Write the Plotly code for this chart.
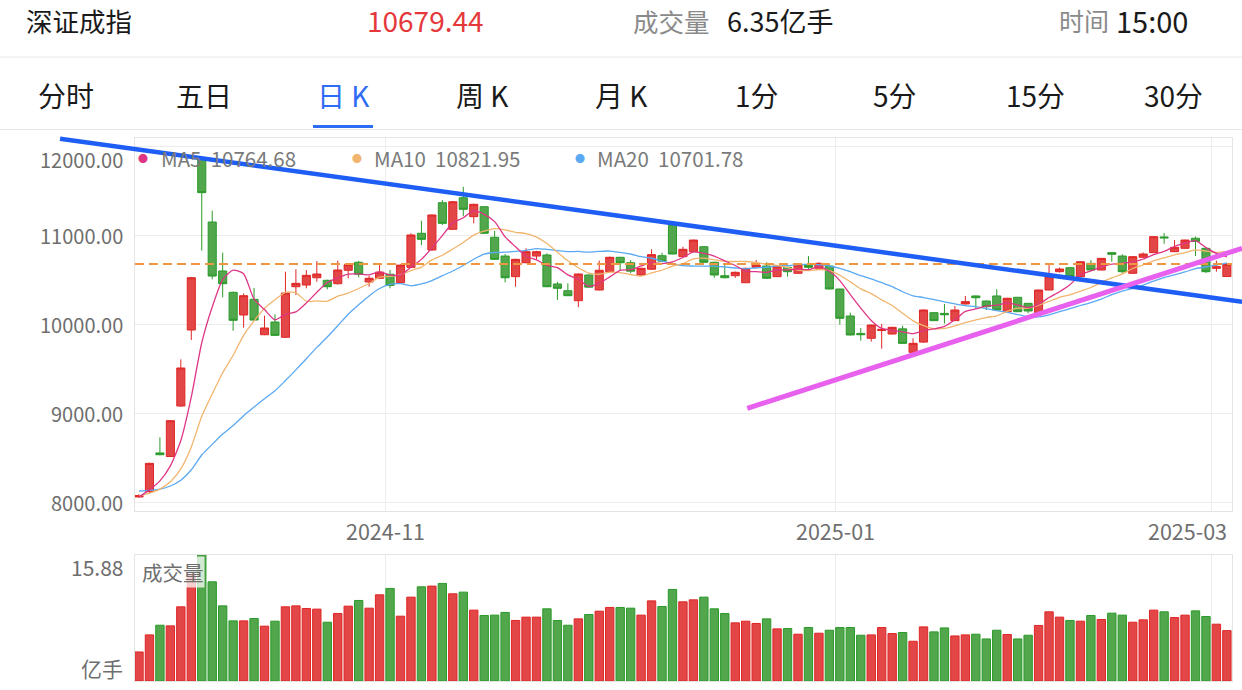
import plotly.graph_objects as go
import pandas as pd

# ---------------- data ----------------
open_ = [8060, 8119, 8555, 8515, 9083, 9938, 11860, 11153, 10602, 10362,
         10107, 10283, 9885, 10028, 9856, 10425, 10444, 10526, 10497, 10459,
         10610, 10700, 10478, 10520, 10565, 10470, 10643, 11026, 10838, 11370,
         11071, 11426, 11213, 11325, 10981, 10770, 10538, 10695, 10770, 10782,
         10456, 10380, 10268, 10557, 10388, 10594, 10756, 10695, 10557, 10622,
         10774, 11115, 10763, 10819, 10875, 10700, 10549, 10549, 10470, 10643,
         10658, 10538, 10643, 10576, 10669, 10632, 10658, 10399, 10096, 9900,
         9845, 9932, 9893, 9951, 9687, 9802, 10133, 10125, 10043, 10231,
         10321, 10264, 10321, 10144, 10306, 10238, 10133, 10388, 10594, 10639,
         10538, 10688, 10613, 10808, 10770, 10576, 10756, 10808, 10985, 10819,
         10857, 10970, 10857, 10632, 10540]
high = [8090, 8445, 8730, 8925, 9608, 10535, 11880, 11280, 10808, 10370,
        10350, 10411, 10099, 10115, 10594, 10621, 10613, 10714, 10505, 10718,
        10680, 10715, 10549, 10669, 10613, 10675, 11026, 11168, 11240, 11400,
        11390, 11550, 11360, 11330, 11055, 10793, 10740, 10857, 10830, 10801,
        10480, 10463, 10575, 10565, 10718, 10765, 10760, 10725, 10640, 10846,
        10808, 11125, 10875, 10955, 10880, 10705, 10669, 10595, 10640, 10725,
        10700, 10665, 10650, 10675, 10770, 10700, 10665, 10402, 10133, 9960,
        9998, 10008, 9975, 9986, 9845, 10170, 10140, 10231, 10208, 10321,
        10326, 10270, 10396, 10300, 10310, 10242, 10392, 10669, 10640, 10645,
        10710, 10725, 10748, 10812, 10790, 10766, 10810, 10992, 11030, 10950,
        10955, 10990, 10862, 10718, 10688]
low = [8050, 8100, 8528, 8510, 9075, 9826, 10830, 10508, 10306, 9930,
       9964, 10040, 9880, 9870, 9850, 10332, 10407, 10481, 10396, 10450,
       10520, 10530, 10425, 10515, 10407, 10465, 10640, 10894, 10830, 11119,
       11065, 11220, 11138, 11020, 10725, 10474, 10425, 10690, 10733, 10420,
       10276, 10320, 10195, 10415, 10385, 10590, 10613, 10576, 10550, 10613,
       10700, 10790, 10758, 10815, 10695, 10526, 10520, 10525, 10465, 10630,
       10515, 10535, 10538, 10570, 10621, 10628, 10396, 9998, 9878, 9818,
       9807, 9728, 9888, 9785, 9682, 9795, 10040, 10010, 10040, 10225,
       10182, 10163, 10160, 10140, 10140, 10126, 10130, 10385, 10585, 10535,
       10535, 10610, 10610, 10706, 10580, 10572, 10752, 10805, 10908, 10815,
       10853, 10770, 10580, 10594, 10535]
close = [8075, 8438, 8535, 8918, 9511, 10526, 11483, 10545, 10459, 10047,
         10324, 10050, 9961, 9878, 10354, 10463, 10553, 10568, 10425, 10613,
         10673, 10565, 10520, 10590, 10440, 10668, 11007, 10958, 11232, 11138,
         11381, 11296, 11352, 11026, 10733, 10526, 10733, 10819, 10819, 10425,
         10407, 10324, 10568, 10420, 10610, 10756, 10695, 10600, 10632, 10786,
         10712, 10793, 10846, 10950, 10700, 10557, 10526, 10587, 10632, 10669,
         10520, 10658, 10594, 10669, 10643, 10688, 10399, 10070, 9882, 9885,
         9994, 9946, 9968, 9788, 9788, 10163, 10043, 10110, 10163, 10257,
         10301, 10200, 10163, 10295, 10144, 10152, 10388, 10538, 10624, 10538,
         10706, 10613, 10744, 10790, 10594, 10763, 10793, 10988, 10975, 10868,
         10950, 10935, 10594, 10650, 10679.44]
volume = [3.66, 5.81, 7.03, 6.95, 9.35, 13.3, 15.88, 12.5, 9.47, 7.58,
          7.58, 7.88, 6.91, 7.54, 9.35, 9.47, 9.14, 9.06, 7.41, 8.51,
          9.43, 10.15, 9.18, 10.86, 11.67, 8.17, 10.57, 11.87, 11.96, 12.3,
          10.99, 11.2, 8.93, 8.26, 8.3, 8.64, 7.63, 8.05, 8.05, 9.1,
          7.63, 7.03, 7.83, 8.38, 8.8, 9.27, 9.27, 9.18, 8.3, 10.1,
          9.39, 11.54, 9.98, 10.23, 10.57, 9.1, 8.51, 7.33, 7.54, 7.25,
          7.83, 6.57, 6.61, 5.9, 6.74, 6.02, 6.4, 6.74, 6.74, 5.77,
          5.81, 6.74, 5.98, 6.11, 5.01, 6.82, 6.19, 6.69, 5.68, 5.81,
          5.9, 5.3, 6.4, 5.86, 5.3, 5.77, 7.0, 8.72, 8.05, 7.63,
          7.54, 8.26, 7.75, 8.55, 8.3, 7.41, 7.71, 8.93, 8.72, 8.0,
          8.3, 8.84, 8.13, 7.16, 6.35]
# closes of the 19 sessions before the first candle (only used for the moving averages)
prior_close = [8290, 8250, 8230, 8200, 8180, 8170, 8150, 8130, 8130, 8110,
               8100, 8090, 8080, 8070, 8060, 8040, 8030, 8070, 8085]

month_ticks = ["2024-11", "2025-01", "2025-03"]
y_ticks = [8000, 9000, 10000, 11000, 12000]
legend_text = ["MA5  10764.68", "MA10  10821.95", "MA20  10701.78"]
header_name = "深证成指"
header_price = "10679.44"
header_vol = "6.35亿手"
header_time = "15:00"
tabs = ["分时", "五日", "日 K", "周 K", "月 K", "1分", "5分", "15分", "30分"]

# trading calendar
holidays = pd.to_datetime(["2024-10-01", "2024-10-02", "2024-10-03", "2024-10-04", "2024-10-07",
                           "2025-01-01", "2025-01-28", "2025-01-29", "2025-01-30", "2025-01-31",
                           "2025-02-03", "2025-02-04"])
dates = [d for d in pd.bdate_range("2024-09-23", "2025-03-04") if d not in set(holidays)]
n = len(close)
idx = list(range(n))

allc = pd.Series(prior_close + close)
ma = {k: allc.rolling(k).mean().iloc[len(prior_close):].tolist() for k in (5, 10, 20)}

# ---------------- geometry ----------------
W, H = 1242, 690
L, R, T, B = 135, 1232, 138, 681
MAIN_BOT, VOL_TOP = 511, 555
XR = [-0.382, 104.49]
YR = [7902, 12098]
VR = [0, 15.88]


def pxx(p):
    return (p - L) / (R - L)


def pxy(p):
    return (B - p) / (B - T)


main_dom = [pxy(MAIN_BOT), 1.0]
vol_dom = [0.0, pxy(VOL_TOP)]


def dx(i):
    return (i - XR[0]) / (XR[1] - XR[0])


def dy(v):
    return main_dom[0] + (v - YR[0]) / (YR[1] - YR[0]) * (main_dom[1] - main_dom[0])


RED_F, RED_L = "#E24646", "#E02626"
GRN_F, GRN_L = "#52A64C", "#2A9A2A"
GRID = "#ECECEC"
TXT = "#6E6E6E"
FONT = "Noto Sans CJK SC, Liberation Sans, sans-serif"

fig = go.Figure()
fig.add_trace(go.Candlestick(
    x=idx, open=open_, high=high, low=low, close=close,
    increasing=dict(fillcolor=RED_F, line=dict(color=RED_L, width=1)),
    decreasing=dict(fillcolor=GRN_F, line=dict(color=GRN_L, width=1)),
    whiskerwidth=0, showlegend=False, hoverinfo="skip", xaxis="x", yaxis="y"))

for k, col in ((20, "#5AA9F2"), (10, "#F1B56E"), (5, "#DE3585")):
    fig.add_trace(go.Scatter(x=idx, y=ma[k], mode="lines", line=dict(color=col, width=1.3, shape="spline", smoothing=0.6),
                             showlegend=False, hoverinfo="skip", xaxis="x", yaxis="y"))

vcol = [RED_F if c > o else GRN_F for o, c in zip(open_, close)]
vline = [RED_L if c > o else GRN_L for o, c in zip(open_, close)]
fig.add_trace(go.Bar(x=idx, y=volume, marker=dict(color=vcol, line=dict(color=vline, width=1)),
                     showlegend=False, hoverinfo="skip", xaxis="x2", yaxis="y2"))

tick_pos = []
for lab in month_ticks:
    first = next(i for i, d in enumerate(dates) if d.strftime("%Y-%m") == lab)
    tick_pos.append(first - 0.43)

axis_common = dict(showline=True, mirror=True, linecolor="#E4E4E4", linewidth=1, zeroline=False,
                   fixedrange=True)
fig.update_layout(
    width=W, height=H, margin=dict(l=L, r=W - R, t=T, b=H - B),
    paper_bgcolor="white", plot_bgcolor="white",
    font=dict(family=FONT, color=TXT),
    boxgap=0.12, boxgroupgap=0.12, bargap=0.2,
    xaxis=dict(domain=[0, 1], range=XR, anchor="y", tickvals=tick_pos, showticklabels=False,
               showgrid=True, gridcolor=GRID, rangeslider=dict(visible=False), **axis_common),
    yaxis=dict(domain=main_dom, range=YR, anchor="x", tickvals=y_ticks, showticklabels=False,
               showgrid=True, gridcolor=GRID, **axis_common),
    xaxis2=dict(domain=[0, 1], range=XR, anchor="y2", tickvals=tick_pos, showticklabels=False,
                showgrid=True, gridcolor=GRID, **axis_common),
    yaxis2=dict(domain=vol_dom, range=VR, anchor="x2", showticklabels=False, showgrid=False,
                **axis_common),
)

shapes = []
# last close dashed line
shapes.append(dict(type="line", xref="paper", yref="y", x0=0, x1=1, y0=close[-1], y1=close[-1],
                   line=dict(color="#EE9640", width=2, dash="9px,5px"), layer="above"))
# trend lines (data coords -> paper)
blue_pts = [(-7.55, 12090), (105.45, 10255)]
pink_pts = [(58.15, 9057), (105.45, 10857)]
for pts, col, w in ((blue_pts, "#1F5EF5", 4.5), (pink_pts, "#E860EE", 5)):
    shapes.append(dict(type="line", xref="paper", yref="paper",
                       x0=dx(pts[0][0]), y0=dy(pts[0][1]), x1=dx(pts[1][0]), y1=dy(pts[1][1]),
                       line=dict(color=col, width=w), layer="above"))
# header separators and tab underline
shapes.append(dict(type="line", xref="paper", yref="paper", x0=pxx(0), x1=pxx(W), y0=pxy(57), y1=pxy(57),
                   line=dict(color="#E8E8E8", width=1)))
shapes.append(dict(type="line", xref="paper", yref="paper", x0=pxx(0), x1=pxx(W), y0=pxy(129.5), y1=pxy(129.5),
                   line=dict(color="#E8E8E8", width=1)))
shapes.append(dict(type="rect", xref="paper", yref="paper", x0=pxx(313), x1=pxx(373), y0=pxy(128), y1=pxy(125),
                   fillcolor="#2F6CF6", line=dict(width=0)))
fig.update_layout(shapes=shapes)

ann = []


def A(text, x, y, size, color, anchor="left", xref="paper", yref="paper", **kw):
    ann.append(dict(text=text, x=x, y=y, xref=xref, yref=yref, xanchor=anchor, yanchor="middle",
                    showarrow=False, font=dict(size=size, color=color, family=FONT), **kw))


# header
A(header_name, pxx(24), pxy(20), 26.5, "#1A1A1A")
A(header_price, pxx(425), pxy(20), 28, "#E5383B", anchor="center")
A("成交量", pxx(631), pxy(20), 25.5, "#8A8A8A")
A(header_vol, pxx(725), pxy(20), 27, "#1A1A1A")
A("时间", pxx(1057), pxy(20), 25, "#8A8A8A")
A(header_time, pxx(1114), pxy(20), 29, "#1A1A1A")
tab_x = [66, 204, 343, 482, 621, 757, 895, 1035, 1173]
for t, xc in zip(tabs, tab_x):
    A(t, pxx(xc), pxy(95), 28, "#2F6CF6" if t == "日 K" else "#1A1A1A", anchor="center")

# y labels
for v in y_ticks:
    A(f"{v:.2f}", pxx(125), v, 20, TXT, anchor="right", yref="y",
      yshift=-13 if v == max(y_ticks) else 0)
# x labels (last one kept inside the plot edge)
for k, (lab, p) in enumerate(zip(month_ticks, tick_pos)):
    if k == len(month_ticks) - 1:
        A(lab, pxx(1229), pxy(530), 21.5, TXT, anchor="right")
    else:
        A(lab, p, pxy(530), 21.5, TXT, anchor="center", xref="x")
# legend
leg_cols = ["#DE3585", "#F1B56E", "#5AA9F2"]
leg_dot = [143, 357, 580]
leg_txt = [159, 372, 595]
for t, c, d, tx in zip(legend_text, leg_cols, leg_dot, leg_txt):
    A("●", pxx(d), pxy(158), 10, c, anchor="center")
    A(t, pxx(tx), pxy(158), 20.5, "#7A7A7A")
# volume labels
A(f"{VR[1]:.2f}", pxx(125), pxy(567), 21, TXT, anchor="right")
A("亿手", pxx(125), pxy(668), 21, TXT, anchor="right")
A("成交量", pxx(141), pxy(572), 20.5, TXT, bgcolor="rgba(255,255,255,0.75)", borderpad=0)
fig.update_layout(annotations=ann)

fig.write_html("out.html", config=dict(displayModeBar=False))
